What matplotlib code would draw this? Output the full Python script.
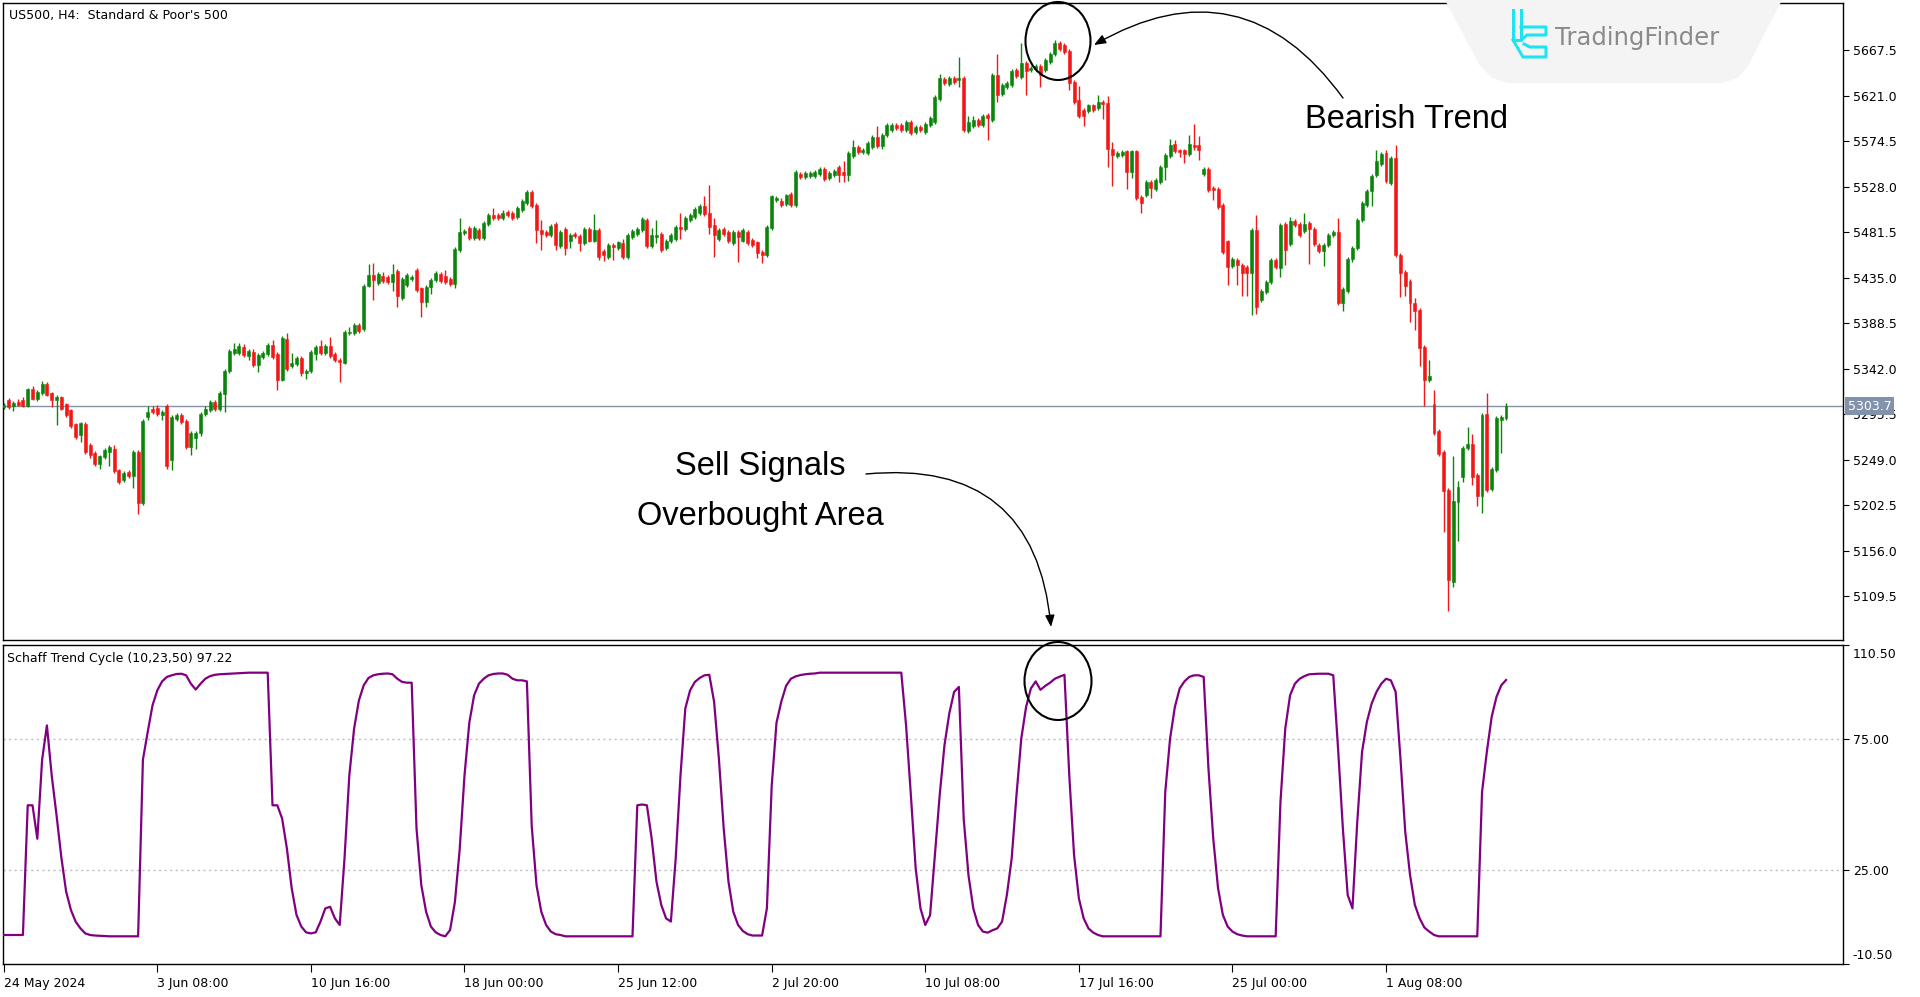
#!/usr/bin/env python3
"""
US500 H4 candles with the Schaff Trend Cycle (10,23,50) pane underneath,
drawn in MT5 style with the "Bearish Trend" / "Sell Signals" notes.
Saves out.png (1920x997).
"""

import matplotlib
matplotlib.use("Agg")
import matplotlib.pyplot as plt
import matplotlib.transforms as mtransforms
from matplotlib import font_manager
from matplotlib.patches import Ellipse, Polygon
import numpy as np

# ---- candle data (H4 bars) ----
opens = [
    5303, 5310, 5304, 5308, 5310, 5304, 5321, 5311, 5317, 5326,
    5317, 5310, 5313, 5306, 5300, 5286, 5274, 5286, 5264, 5256,
    5245, 5252, 5257, 5260, 5238, 5228, 5236, 5232, 5257, 5205,
    5293, 5301, 5302, 5295, 5304, 5249, 5291, 5295, 5289, 5262,
    5271, 5276, 5296, 5300, 5308, 5301, 5316, 5340, 5358, 5358,
    5364, 5355, 5359, 5346, 5354, 5357, 5366, 5357, 5330, 5372,
    5345, 5347, 5353, 5338, 5340, 5357, 5365, 5358, 5365, 5357,
    5351, 5348, 5378, 5378, 5387, 5383, 5427, 5438, 5430, 5437,
    5436, 5431, 5442, 5414, 5428, 5434, 5443, 5424, 5410, 5426,
    5433, 5439, 5437, 5434, 5429, 5463, 5481, 5486, 5476, 5484,
    5476, 5490, 5499, 5499, 5496, 5502, 5501, 5497, 5504, 5511,
    5523, 5509, 5484, 5482, 5479, 5490, 5467, 5485, 5473, 5480,
    5478, 5470, 5485, 5473, 5484, 5462, 5456, 5468, 5465, 5470,
    5456, 5477, 5480, 5484, 5494, 5467, 5477, 5480, 5465, 5472,
    5475, 5487, 5485, 5494, 5497, 5501, 5508, 5501, 5489, 5475,
    5485, 5482, 5470, 5482, 5473, 5482, 5474, 5471, 5461, 5458,
    5486, 5514, 5513, 5510, 5521, 5509, 5541, 5538, 5539, 5539,
    5541, 5546, 5537, 5540, 5548, 5543, 5540, 5559, 5569, 5563,
    5562, 5569, 5579, 5570, 5581, 5586, 5591, 5591, 5586, 5594,
    5584, 5589, 5584, 5591, 5594, 5618, 5638, 5633, 5639, 5637,
    5639, 5585, 5590, 5596, 5591, 5601, 5596, 5642, 5623, 5630,
    5632, 5647, 5640, 5654, 5647, 5648, 5651, 5647, 5655, 5664,
    5675, 5673, 5667, 5635, 5617, 5606, 5605, 5611, 5608, 5615,
    5614, 5567, 5559, 5560, 5564, 5543, 5564, 5517, 5519, 5533,
    5526, 5533, 5548, 5559, 5572, 5565, 5565, 5561, 5571, 5571,
    5541, 5546, 5527, 5526, 5509, 5472, 5447, 5453, 5448, 5446,
    5440, 5484, 5412, 5420, 5431, 5453, 5445, 5490, 5469, 5493,
    5490, 5483, 5491, 5485, 5468, 5462, 5468, 5479, 5482, 5409,
    5421, 5454, 5465, 5494, 5509, 5524, 5540, 5551, 5562, 5532,
    5557, 5458, 5441, 5432, 5409, 5402, 5364, 5330, 5306, 5278,
    5257, 5218, 5124, 5206, 5231, 5261, 5265, 5233, 5212, 5296,
    5219, 5238, 5290, 5292,
]
highs = [
    5307, 5312, 5309, 5311, 5313, 5322, 5324, 5320, 5329, 5328,
    5318, 5315, 5314, 5307, 5301, 5287, 5288, 5288, 5266, 5258,
    5254, 5261, 5264, 5264, 5240, 5237, 5238, 5259, 5259, 5291,
    5304, 5304, 5305, 5300, 5306, 5295, 5297, 5297, 5291, 5278,
    5278, 5298, 5304, 5310, 5310, 5319, 5342, 5362, 5368, 5368,
    5367, 5362, 5362, 5358, 5360, 5368, 5371, 5359, 5375, 5378,
    5358, 5355, 5355, 5342, 5361, 5366, 5371, 5367, 5374, 5359,
    5353, 5382, 5385, 5389, 5389, 5429, 5449, 5450, 5441, 5441,
    5438, 5449, 5444, 5436, 5440, 5438, 5445, 5426, 5428, 5435,
    5442, 5441, 5443, 5436, 5466, 5496, 5485, 5488, 5488, 5486,
    5493, 5501, 5506, 5501, 5504, 5504, 5503, 5508, 5515, 5525,
    5525, 5511, 5494, 5484, 5490, 5492, 5484, 5487, 5481, 5482,
    5480, 5487, 5487, 5500, 5486, 5464, 5470, 5470, 5473, 5475,
    5481, 5485, 5487, 5497, 5496, 5486, 5494, 5482, 5475, 5481,
    5489, 5501, 5498, 5501, 5507, 5510, 5518, 5530, 5496, 5486,
    5487, 5484, 5484, 5484, 5486, 5484, 5476, 5473, 5463, 5489,
    5520, 5518, 5516, 5521, 5523, 5545, 5543, 5544, 5544, 5545,
    5548, 5548, 5544, 5546, 5550, 5554, 5564, 5576, 5571, 5568,
    5575, 5581, 5590, 5583, 5593, 5593, 5593, 5593, 5596, 5596,
    5591, 5591, 5594, 5600, 5622, 5643, 5640, 5641, 5641, 5661,
    5641, 5600, 5600, 5598, 5602, 5603, 5644, 5664, 5634, 5636,
    5648, 5649, 5675, 5656, 5651, 5653, 5653, 5659, 5666, 5678,
    5677, 5675, 5669, 5637, 5631, 5608, 5613, 5613, 5622, 5617,
    5621, 5574, 5564, 5565, 5566, 5566, 5566, 5519, 5535, 5535,
    5537, 5550, 5562, 5577, 5576, 5567, 5567, 5581, 5592, 5580,
    5548, 5548, 5529, 5528, 5511, 5474, 5456, 5455, 5450, 5448,
    5486, 5499, 5423, 5433, 5455, 5455, 5491, 5492, 5497, 5495,
    5492, 5501, 5493, 5487, 5470, 5470, 5481, 5484, 5496, 5425,
    5456, 5467, 5496, 5513, 5526, 5541, 5565, 5563, 5566, 5559,
    5571, 5460, 5443, 5434, 5414, 5404, 5366, 5351, 5320, 5280,
    5259, 5220, 5253, 5227, 5263, 5282, 5275, 5235, 5297, 5317,
    5242, 5294, 5295, 5307,
]
lows = [
    5301, 5301, 5299, 5304, 5303, 5303, 5310, 5309, 5315, 5314,
    5303, 5284, 5300, 5293, 5281, 5270, 5267, 5255, 5251, 5243,
    5240, 5250, 5243, 5235, 5224, 5226, 5230, 5220, 5194, 5203,
    5290, 5296, 5294, 5290, 5240, 5238, 5289, 5286, 5260, 5254,
    5260, 5273, 5294, 5298, 5299, 5299, 5298, 5338, 5356, 5356,
    5354, 5351, 5344, 5339, 5352, 5355, 5352, 5320, 5329, 5340,
    5343, 5345, 5335, 5332, 5338, 5351, 5356, 5356, 5353, 5349,
    5328, 5347, 5376, 5376, 5379, 5381, 5425, 5412, 5428, 5430,
    5429, 5421, 5405, 5412, 5426, 5432, 5420, 5395, 5405, 5418,
    5431, 5430, 5429, 5427, 5424, 5461, 5479, 5474, 5474, 5474,
    5474, 5488, 5494, 5494, 5494, 5497, 5494, 5495, 5502, 5509,
    5506, 5470, 5463, 5477, 5477, 5463, 5465, 5458, 5465, 5476,
    5462, 5468, 5471, 5471, 5453, 5452, 5454, 5453, 5463, 5454,
    5454, 5475, 5478, 5482, 5465, 5465, 5470, 5461, 5463, 5470,
    5473, 5475, 5483, 5492, 5495, 5499, 5498, 5480, 5456, 5473,
    5478, 5470, 5468, 5451, 5471, 5468, 5466, 5455, 5450, 5456,
    5484, 5512, 5507, 5508, 5507, 5507, 5536, 5536, 5537, 5537,
    5539, 5534, 5535, 5538, 5533, 5533, 5534, 5557, 5561, 5561,
    5560, 5567, 5568, 5567, 5579, 5584, 5586, 5584, 5584, 5581,
    5582, 5584, 5582, 5589, 5592, 5616, 5632, 5631, 5633, 5630,
    5584, 5583, 5588, 5589, 5589, 5576, 5594, 5615, 5621, 5628,
    5630, 5639, 5638, 5622, 5645, 5646, 5630, 5645, 5653, 5662,
    5667, 5664, 5627, 5613, 5598, 5590, 5603, 5604, 5606, 5597,
    5548, 5529, 5557, 5558, 5526, 5537, 5514, 5501, 5517, 5516,
    5524, 5531, 5535, 5557, 5562, 5558, 5552, 5559, 5565, 5555,
    5539, 5523, 5514, 5505, 5459, 5428, 5445, 5428, 5416, 5416,
    5397, 5398, 5410, 5418, 5429, 5444, 5436, 5448, 5467, 5487,
    5477, 5481, 5449, 5467, 5460, 5447, 5466, 5477, 5407, 5401,
    5419, 5451, 5463, 5492, 5507, 5508, 5538, 5549, 5532, 5530,
    5456, 5415, 5416, 5390, 5382, 5345, 5304, 5328, 5274, 5253,
    5175, 5094, 5119, 5166, 5226, 5259, 5223, 5202, 5195, 5216,
    5217, 5236, 5256, 5290,
]
closes = [
    5305, 5303, 5307, 5305, 5304, 5321, 5311, 5318, 5326, 5315,
    5310, 5313, 5301, 5295, 5283, 5272, 5287, 5257, 5254, 5245,
    5253, 5259, 5262, 5237, 5226, 5235, 5232, 5257, 5205, 5289,
    5298, 5298, 5296, 5298, 5243, 5293, 5295, 5288, 5262, 5276,
    5276, 5296, 5301, 5308, 5301, 5317, 5340, 5360, 5362, 5365,
    5356, 5360, 5346, 5356, 5358, 5366, 5354, 5330, 5373, 5342,
    5348, 5353, 5338, 5340, 5359, 5364, 5358, 5365, 5355, 5351,
    5349, 5380, 5380, 5387, 5381, 5427, 5438, 5433, 5439, 5432,
    5431, 5439, 5416, 5434, 5438, 5436, 5422, 5410, 5426, 5433,
    5440, 5432, 5431, 5429, 5464, 5482, 5483, 5476, 5486, 5476,
    5491, 5499, 5496, 5496, 5501, 5499, 5496, 5506, 5513, 5523,
    5508, 5484, 5480, 5479, 5488, 5468, 5482, 5465, 5479, 5478,
    5470, 5485, 5473, 5484, 5456, 5458, 5468, 5466, 5471, 5456,
    5479, 5483, 5485, 5495, 5467, 5479, 5479, 5463, 5473, 5479,
    5487, 5485, 5496, 5499, 5505, 5508, 5500, 5487, 5479, 5484,
    5480, 5472, 5482, 5477, 5484, 5470, 5468, 5460, 5458, 5487,
    5518, 5516, 5509, 5519, 5509, 5543, 5538, 5542, 5542, 5543,
    5546, 5536, 5542, 5544, 5540, 5540, 5562, 5569, 5563, 5566,
    5573, 5579, 5570, 5581, 5591, 5591, 5588, 5586, 5594, 5583,
    5589, 5586, 5592, 5598, 5620, 5639, 5634, 5639, 5635, 5639,
    5586, 5594, 5596, 5591, 5600, 5598, 5642, 5622, 5632, 5634,
    5646, 5641, 5654, 5646, 5649, 5651, 5642, 5657, 5664, 5675,
    5669, 5666, 5634, 5615, 5600, 5600, 5611, 5606, 5615, 5613,
    5567, 5560, 5562, 5563, 5543, 5564, 5516, 5511, 5533, 5527,
    5535, 5548, 5560, 5571, 5564, 5563, 5561, 5572, 5569, 5566,
    5546, 5525, 5525, 5507, 5461, 5446, 5454, 5448, 5440, 5440,
    5484, 5405, 5421, 5431, 5453, 5446, 5489, 5463, 5493, 5489,
    5479, 5490, 5485, 5469, 5462, 5468, 5479, 5482, 5409, 5423,
    5454, 5465, 5494, 5511, 5524, 5539, 5554, 5561, 5534, 5557,
    5458, 5440, 5427, 5409, 5401, 5363, 5330, 5335, 5276, 5255,
    5217, 5126, 5207, 5221, 5261, 5265, 5231, 5212, 5295, 5218,
    5240, 5292, 5293, 5303.7,
]

# Schaff Trend Cycle value per bar
stc = [
    0.5, 0.5, 0.5, 0.5, 0.5, 49.7, 49.7, 37, 67, 80,
    61, 46, 30, 17, 10, 5.5, 3, 1.1, 0.5, 0.3,
    0.2, 0.1, 0, 0, 0, 0, 0, 0, 0, 67,
    77.5, 87.6, 93.3, 96.7, 98.4, 99, 99.5, 99.6, 99, 95.8,
    93.6, 95.8, 97.7, 98.7, 99.2, 99.4, 99.5, 99.6, 99.7, 99.8,
    99.9, 100, 100, 100, 100, 100, 49.7, 49.7, 44.7, 33.3,
    18.2, 8.1, 3.7, 1.5, 1.1, 1.5, 5.6, 10.6, 11.2, 6.8,
    4.3, 29.5, 61, 78.8, 89.5, 95.2, 98, 99, 99.4, 99.6,
    99.7, 99.4, 97.7, 96.5, 96.2, 96.2, 41, 19.4, 9.3, 3.7,
    1.5, 0.5, 0, 2.4, 13, 33, 61, 81, 91.4, 95.8,
    97.7, 99, 99.5, 99.7, 99.7, 99.2, 97.7, 97.1, 97.1, 96.7,
    42, 19.4, 9.3, 4.3, 1.8, 0.8, 0.5, 0, 0, 0,
    0, 0, 0, 0, 0, 0, 0, 0, 0, 0,
    0, 0, 49.7, 50, 49.7, 37, 20.7, 11.9, 6.8, 5.6,
    29.5, 61, 86.4, 93.3, 96.5, 98, 99, 99.2, 89, 67.4,
    41, 20.7, 9.3, 4.3, 2, 0.8, 0.3, 0.3, 0.3, 10.6,
    57, 81, 89, 95, 97.7, 98.6, 99.1, 99.4, 99.6, 99.7,
    100, 100, 100, 100, 100, 100, 100, 100, 100, 100,
    100, 100, 100, 100, 100, 100, 100, 100, 80, 53.5,
    25.8, 10.6, 4.3, 8, 30.8, 53.5, 72.5, 84.5, 92.7, 94.6,
    44.7, 23.2, 10.6, 4.3, 1.8, 1.4, 2.3, 3, 5.6, 15.7,
    29.5, 53.5, 75, 87, 94, 96.7, 93.5, 95, 96.2, 97.7,
    98.5, 99.2, 61, 30.8, 14.4, 6.8, 3, 1.4, 0.5, 0,
    0, 0, 0, 0, 0, 0, 0, 0, 0, 0,
    0, 0, 54.8, 75, 87, 94, 96.7, 98.4, 99, 99,
    98.4, 63.6, 37, 18.2, 8.1, 3.7, 1.8, 0.8, 0.3, 0,
    0, 0, 0, 0, 0, 0, 51, 78.8, 91.4, 95.8,
    97.7, 98.7, 99.4, 99.5, 99.6, 99.6, 99.6, 99, 71.2, 41,
    15.7, 10.6, 43.4, 70, 81.3, 88.3, 92.7, 95.8, 97.7, 97.1,
    92.7, 67.4, 39.6, 23.2, 11.9, 6.8, 3.3, 1.8, 0.5, 0,
    0, 0, 0, 0, 0, 0, 0, 0, 54.8, 70,
    83.2, 90.8, 95.2, 97.22,
]

last_price = 5303.7
price_ticks = [5109.5, 5156.0, 5202.5, 5249.0, 5295.5, 5342.0, 5388.5,
               5435.0, 5481.5, 5528.0, 5574.5, 5621.0, 5667.5]
stc_ticks = [-10.5, 25.0, 75.0, 110.5]
time_ticks = [0, 32, 64, 96, 128, 160, 192, 224, 256, 288]
time_labels = ["24 May 2024", "3 Jun 08:00", "10 Jun 16:00", "18 Jun 00:00",
               "25 Jun 12:00", "2 Jul 20:00", "10 Jul 08:00", "17 Jul 16:00",
               "25 Jul 00:00", "1 Aug 08:00"]

BULL = "#0A850A"
BEAR = "#F21818"
STC_COLOR = "#800080"

W, H = 1920, 997

_names = {f.name for f in font_manager.fontManager.ttflist}
if "Liberation Sans Narrow" in _names:
    NOTE_FONT, NOTE_SIZE = "Liberation Sans Narrow", 28.5
else:
    NOTE_FONT, NOTE_SIZE = "Liberation Sans", 23.5


def px_rect(left, top, right, bottom):
    """Figure-fraction rect from pixel edges (top-left origin)."""
    return [left / W, 1 - bottom / H, (right - left) / W, (bottom - top) / H]


def style_frame(ax):
    for sp in ax.spines.values():
        sp.set_color("black")
        sp.set_linewidth(1)


def draw_candles(ax):
    x = np.arange(len(closes))
    o, h, l, c = (np.array(v, dtype=float) for v in (opens, highs, lows, closes))
    cols = np.where(c >= o, BULL, BEAR)
    ax.vlines(x, l, h, colors=cols, lw=1, zorder=2)
    body = np.maximum(np.abs(c - o), 0.8)
    ax.bar(x, body, bottom=np.minimum(o, c), width=0.6, color=cols,
           edgecolor=cols, lw=0.4, zorder=3)


def main():
    fig = plt.figure(figsize=(W / 100, H / 100), dpi=100)
    fig.patch.set_facecolor("white")

    ax = fig.add_axes(px_rect(3, 3, 1843, 640))
    ax_stc = fig.add_axes(px_rect(3, 645, 1843, 964))
    n = len(closes)
    xlim = (-0.15, 383.2)

    # price pane
    draw_candles(ax)
    ax.axhline(last_price, color="#8393A8", lw=1, zorder=1)
    ax.set_xlim(*xlim)
    ax.set_ylim(5064.8, 5715.7)
    ax.set_xticks([])
    ax.yaxis.tick_right()
    ax.set_yticks(price_ticks)
    ax.set_yticklabels([f"{v:.1f}" for v in price_ticks])
    ax.tick_params(axis="y", direction="out", length=4, pad=3, labelsize=9)
    style_frame(ax)
    ax.text(0.003, 0.99, "US500, H4:  Standard & Poor's 500",
            transform=ax.transAxes, va="top", ha="left", fontsize=9)
    trans = mtransforms.blended_transform_factory(ax.transAxes, ax.transData)
    ax.text(1.0025, last_price, f"{last_price:.1f}", transform=trans,
            va="center", ha="left", fontsize=9, color="white", zorder=10,
            bbox=dict(boxstyle="square,pad=0.18", fc="#8292AA", ec="none"))

    # STC pane
    ax_stc.plot(np.arange(n), stc, color=STC_COLOR, lw=1.6, zorder=3)
    for lvl in (75, 25):
        ax_stc.axhline(lvl, color="#BDBDBD", lw=1, ls=(0, (1.5, 2.5)), zorder=1)
    ax_stc.set_xlim(*xlim)
    ax_stc.set_ylim(-10.5, 110.5)
    ax_stc.yaxis.tick_right()
    ax_stc.set_yticks(stc_ticks)
    ax_stc.set_yticklabels([f"{v:.2f}" for v in stc_ticks])
    ax_stc.tick_params(axis="y", direction="out", length=4, pad=3, labelsize=9)
    labels = ax_stc.get_yticklabels()
    labels[0].set_va("bottom")
    labels[-1].set_va("top")
    labels[0].set_transform(labels[0].get_transform() +
                            mtransforms.ScaledTranslation(0, 0.02, fig.dpi_scale_trans))
    labels[-1].set_transform(labels[-1].get_transform() +
                             mtransforms.ScaledTranslation(0, -0.03, fig.dpi_scale_trans))
    ax_stc.set_xticks(time_ticks)
    ax_stc.set_xticklabels(time_labels, ha="left")
    ax_stc.tick_params(axis="x", direction="out", length=6, pad=3, labelsize=9)
    style_frame(ax_stc)
    ax_stc.text(0.002, 0.978, "Schaff Trend Cycle (10,23,50) 97.22",
                transform=ax_stc.transAxes, va="top", ha="left", fontsize=9)

    # overlay in pixel coords for the notes and the logo
    ov = fig.add_axes([0, 0, 1, 1], facecolor="none")
    ov.set_xlim(0, W)
    ov.set_ylim(H, 0)
    ov.axis("off")

    ov.add_patch(Polygon([(1445, 0), (1782, 0), (1748, 66), (1738, 78), (1722, 83),
                          (1508, 83), (1492, 78), (1480, 66)],
                         closed=True, fc="#F4F4F4", ec="none"))
    cyan = "#1FE3F2"
    ov.plot([1513, 1513, 1521, 1521], [10, 40, 40, 10], color=cyan, lw=2.2)
    ov.plot([1521, 1546, 1546, 1527, 1521], [27, 27, 35, 35, 40], color=cyan, lw=2.2)
    ov.plot([1513, 1523, 1546, 1546, 1530, 1524], [40, 57, 57, 47, 47, 44],
            color=cyan, lw=2.2)
    ov.text(1555, 38, "TradingFinder", fontsize=17.5, color="#8A8A8A",
            va="center", ha="left")

    note = dict(fontsize=NOTE_SIZE, family=NOTE_FONT, color="black",
                ha="center", va="center")
    ov.text(1407, 120, "Bearish Trend", **note)
    ov.text(760, 466, "Sell Signals", **note)
    ov.text(760, 516, "Overbought Area", **note)

    ov.add_patch(Ellipse((1058, 41), 65, 78, fill=False, ec="black", lw=1.5))
    ov.add_patch(Ellipse((1058, 681), 67, 78, fill=False, ec="black", lw=1.5))

    arrow = dict(arrowstyle="-|>,head_length=0.5,head_width=0.2", color="black",
                 lw=1, mutation_scale=14, shrinkA=0, shrinkB=0)
    ov.annotate("", xy=(1094, 45), xytext=(1343, 98),
                arrowprops=dict(connectionstyle="arc3,rad=0.45", **arrow))
    ov.annotate("", xy=(1051, 627), xytext=(866, 474),
                arrowprops=dict(connectionstyle="arc3,rad=-0.5", **arrow))

    fig.savefig("out.png", dpi=100)
    plt.close(fig)


if __name__ == "__main__":
    main()
